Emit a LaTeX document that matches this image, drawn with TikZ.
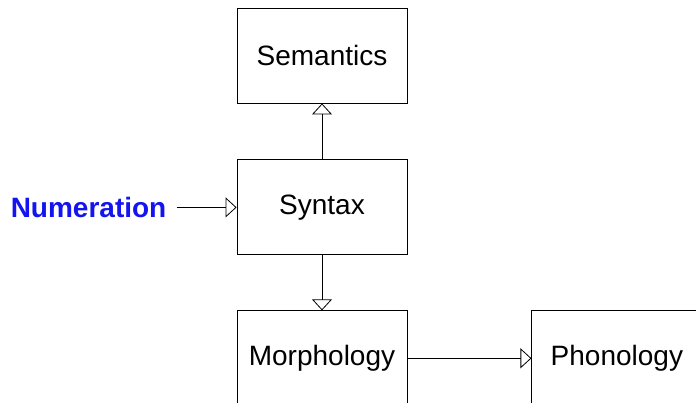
\documentclass[tikz,border=0pt]{standalone}
\usepackage{fontspec}
\setmainfont{Liberation Sans}
\usepackage{color}
\definecolor{myblue}{RGB}{20,20,240}
\usepackage{tikz}
\usetikzlibrary{arrows.meta,positioning}

\begin{document}
\begin{tikzpicture}[
  x=1pt, y=1pt,
  mybox/.style={
    draw,
    line width=0.9pt,
    minimum width=170pt,
    minimum height=95pt,
    font=\fontsize{28}{34}\selectfont
    },
  myarrow/.style={
    line width=0.8pt,
    -{Triangle[open,length=11pt,width=20pt]}
    }
]
\useasboundingbox (0,0) rectangle (696,-403);

\node[mybox] (semantics) at (322,-55.5) {Semantics};
\node[mybox] [below=56pt of semantics] (syntax) {Syntax};
\node[mybox] [below=55pt of syntax] (morphology) {Morphology};
\node[mybox] [right=124pt of morphology] (phonology) {Phonology};

\node[text=myblue, inner xsep=10pt, inner ysep=0pt, font=\fontsize{28}{34}\selectfont\bfseries]
  [left=60pt of syntax] (numeration) {Numeration};

\draw[myarrow] (numeration) -- (syntax);
\draw[myarrow] (syntax) -- (semantics);
\draw[myarrow] (syntax) -- (morphology);
\draw[myarrow] (morphology) -- (phonology);

\end{tikzpicture}
\end{document}
